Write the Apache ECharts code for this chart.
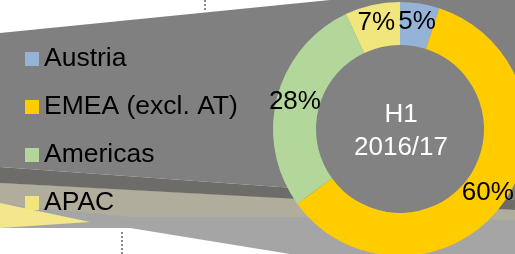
<!DOCTYPE html>
<html lang="en">
<head>
	<meta charset="UTF-8">
	<title>Regions H1 2016/17</title>
	<script src="https://cdn.jsdelivr.net/npm/echarts@6/dist/echarts.min.js"></script>
	<style>
		html, body { margin: 0; padding: 0; background: #fff; }
		#container { width: 515px; height: 254px; }
	</style>
</head>
<body>
	<div id="container"></div>
	<script>
		// regions and their share of revenue, clockwise from 12 o'clock
		var regions = ['Austria', 'EMEA (excl. AT)', 'Americas', 'APAC'];
		var shares = [5, 60, 28, 7];
		var colors = ['#95b3d7', '#ffcc00', '#b3d69b', '#f1e67e'];
		var centerText = ['H1', '2016/17'];

		var font = '"Liberation Sans", Arial, sans-serif';

		// slide decoration behind the donut
		var bg = [
			{ type: 'polygon', z: 0, silent: true, shape: { points: [[0,33],[330,0],[515,0],[515,200],[280,187],[0,167]] }, style: { fill: '#808080' } },
			{ type: 'polygon', z: 0, silent: true, shape: { points: [[0,183],[515,210],[515,254],[290,254],[130,228],[0,228]] }, style: { fill: '#a5a5a5' } },
			{ type: 'polygon', z: 0, silent: true, shape: { points: [[0,183],[515,210],[515,220],[280,217],[130,217],[0,204]] }, style: { fill: '#b0ad9d' } },
			{ type: 'polygon', z: 0, silent: true, shape: { points: [[0,203],[90,222],[0,228]] }, style: { fill: '#f3e68c' } },
			{ type: 'polygon', z: 0, silent: true, shape: { points: [[0,167],[280,187],[515,200],[515,210],[280,198],[0,183]] }, style: { fill: '#6d6c68' } },
			{ type: 'line', z: 0, silent: true, shape: { x1: 205, y1: 0, x2: 205, y2: 11 }, style: { stroke: '#8a8a8a', lineWidth: 2, lineDash: [2, 2] } },
			{ type: 'line', z: 0, silent: true, shape: { x1: 122, y1: 232, x2: 122, y2: 254 }, style: { stroke: '#8a8a8a', lineWidth: 2, lineDash: [2, 2] } },
			{ type: 'text', z: 10, silent: true, x: 401, y: 98, style: { text: centerText.join('\n'), fill: '#fff', font: '26px ' + font, lineHeight: 33, align: 'center' } }
		];

		var myChart = echarts.init(document.getElementById('container'));
		var option = {
			animation: false,
			color: colors,
			graphic: bg,
			legend: {
				orient: 'vertical',
				left: 20,
				top: 39,
				icon: 'rect',
				itemWidth: 14,
				itemHeight: 14,
				itemGap: 18,
				data: regions,
				textStyle: { fontFamily: font, fontSize: 26.5, color: '#000', lineHeight: 30 }
			},
			series: [{
				type: 'pie',
				silent: true,
				center: [400, 129],
				radius: [0, 84],
				label: { show: false },
				itemStyle: { color: '#828282' },
				data: [1],
				z: 1
			}, {
				type: 'pie',
				center: [400, 129],
				radius: [84, 127],
				startAngle: 90,
				clockwise: true,
				avoidLabelOverlap: false,
				label: {
					show: true,
					position: 'inside',
					formatter: '{c}%',
					fontFamily: font,
					fontSize: 26,
					color: '#000'
				},
				labelLine: { show: false },
				itemStyle: { borderWidth: 0 },
				data: regions.map(function (r, i) { return { name: r, value: shares[i] }; })
			}]
		};
		myChart.setOption(option);
	</script>
</body>
</html>
